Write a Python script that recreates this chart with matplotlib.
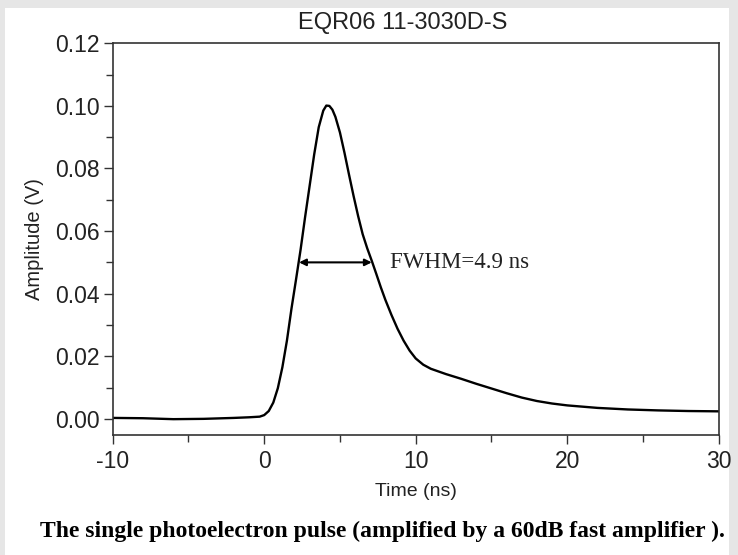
import matplotlib
matplotlib.use("Agg")
import matplotlib.pyplot as plt
from matplotlib.patches import Rectangle
from matplotlib.ticker import MultipleLocator, FormatStrFormatter

# ---- data ----
time_ns = [-10, -8, -6, -4, -2, -1, -0.3, 0, 0.3, 0.6, 0.9, 1.2, 1.5, 1.8, 2.1,
           2.4, 2.7, 3.0, 3.3, 3.6, 3.9, 4.1, 4.3, 4.5, 4.7, 5.0, 5.3, 5.6, 5.9,
           6.2, 6.5, 6.8, 7.1, 7.4, 7.7, 8.0, 8.4, 8.8, 9.2, 9.6, 10.0, 10.5,
           11.0, 12.0, 13.0, 14.0, 15.0, 16.0, 17.0, 18.0, 19.0, 20.0, 22.0,
           24.0, 26.0, 28.0, 30.0]
amplitude_v = [0.0003, 0.0002, -0.0001, 0.0000, 0.0003, 0.0005, 0.0007, 0.0012,
               0.0025, 0.0052, 0.0098, 0.0165, 0.0250, 0.0352, 0.0445, 0.0540,
               0.0645, 0.0745, 0.0845, 0.0932, 0.0985, 0.1001, 0.1000, 0.0988,
               0.0965, 0.0915, 0.0850, 0.0780, 0.0712, 0.0648, 0.0590, 0.0545,
               0.0505, 0.0463, 0.0420, 0.0380, 0.0332, 0.0288, 0.0250, 0.0218,
               0.0193, 0.0173, 0.0160, 0.0143, 0.0128, 0.0112, 0.0097, 0.0082,
               0.0068, 0.0057, 0.0049, 0.0043, 0.0035, 0.0030, 0.0027, 0.0025,
               0.0024]
fwhm_left = 2.30
fwhm_right = 7.10
half_max = 0.05

title = "EQR06 11-3030D-S"
x_label = "Time (ns)"
y_label = "Amplitude (V)"
fwhm_text = "FWHM=4.9 ns"
caption = "The single photoelectron pulse (amplified by a 60dB fast amplifier )."

# ---- figure ----
fig = plt.figure(figsize=(7.38, 5.55), dpi=100)
fig.patch.set_facecolor("#e6e6e6")
bg = Rectangle((5 / 738, 0), (729 - 5) / 738, (555 - 8) / 555,
               transform=fig.transFigure, facecolor="white",
               edgecolor="none", zorder=-10)
fig.add_artist(bg)

ax = fig.add_axes([112.7 / 738, 1 - 434.5 / 555, 606 / 738, (434.5 - 43.3) / 555])
ax.set_zorder(5)
ax.set_facecolor("white")
ax.plot(time_ns, amplitude_v, color="black", lw=1.7, solid_joinstyle="round")

ax.set_xlim(-10, 30)
ax.set_ylim(-0.005, 0.12)
ax.xaxis.set_major_locator(MultipleLocator(10))
ax.xaxis.set_minor_locator(MultipleLocator(5))
ax.yaxis.set_major_locator(MultipleLocator(0.02))
ax.yaxis.set_minor_locator(MultipleLocator(0.01))
ax.yaxis.set_major_formatter(FormatStrFormatter("%.2f"))
ax.xaxis.set_major_formatter(FormatStrFormatter("%d"))

font = "Liberation Sans"
ax.tick_params(which="both", direction="out", colors="#333333", width=1.0,
               top=False, right=False)
ax.tick_params(which="major", length=6.5, labelsize=16.5, labelcolor="#222222")
ax.tick_params(axis="y", which="major", pad=3)
ax.tick_params(axis="x", which="major", pad=5)
ax.tick_params(which="minor", length=5)
for lab in ax.get_xticklabels() + ax.get_yticklabels():
    lab.set_fontfamily(font)
for s in ax.spines.values():
    s.set_color("#333333")
    s.set_linewidth(1.2)

ax.set_title(title, fontsize=17, family=font, color="#222222", pad=10, x=0.479)
ax.set_xlabel(x_label, fontsize=14, family=font, color="#222222", labelpad=7)
ax.set_ylabel(y_label, fontsize=14.5, family=font, color="#222222", labelpad=8)

ax.annotate("", xy=(fwhm_left, half_max), xytext=(fwhm_right, half_max),
            arrowprops=dict(arrowstyle="<|-|>", color="black", lw=1.5,
                            mutation_scale=10, shrinkA=0, shrinkB=0))
ax.text(fwhm_right + 1.2, half_max, fwhm_text, family="Liberation Serif",
        fontsize=16.5, va="center", ha="left", color="#222222")

fig.text(0.518, 1 - 531 / 555, caption, family="Liberation Serif",
         fontweight="bold", fontsize=17, ha="center", va="center", color="black")

fig.savefig("out.png", dpi=100, facecolor=fig.get_facecolor())
